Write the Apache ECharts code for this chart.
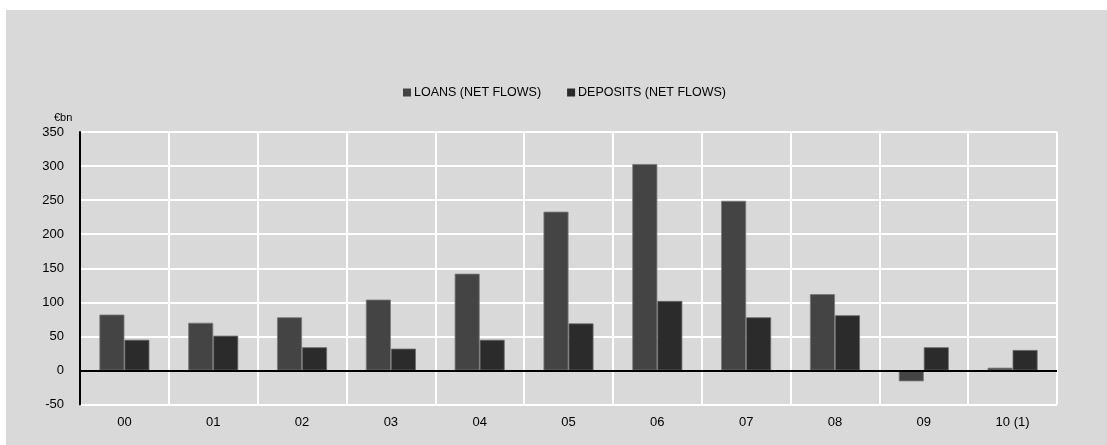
<!DOCTYPE html>
<html>
<head>
<meta charset="utf-8">
<script src="https://cdn.jsdelivr.net/npm/echarts@6/dist/echarts.min.js"></script>
<style>
html,body{margin:0;padding:0;background:#fff;}
#bg{position:absolute;left:6px;top:10px;width:1101px;height:435px;background:#d9d9d9;}
#chart{position:absolute;left:0;top:0;width:1107px;height:445px;}
</style>
</head>
<body>
<div id="bg"></div>
<div id="chart"></div>
<script>
const categories = ['00','01','02','03','04','05','06','07','08','09','10 (1)'];
const loans = [82, 70, 78, 104, 142, 233, 303, 249, 112, -16, 4];
const deposits = [45, 51, 34, 32, 45, 69, 102, 78, 81, 34, 30];
const seriesNames = ['LOANS (NET FLOWS)', 'DEPOSITS (NET FLOWS)'];
const unitLabel = '€bn';

const chart = echarts.init(document.getElementById('chart'), null, {renderer:'canvas'});
const font = 'Liberation Sans, Arial, sans-serif';
chart.setOption({
  backgroundColor: 'transparent',
  animation: false,
  textStyle: {fontFamily: font},
  legend: {
    top: 81, left: 398,
    itemWidth: 8, itemHeight: 8, itemGap: 26,
    icon: 'rect',
    itemStyle: {borderWidth: 0},
    textStyle: {fontSize: 12.5, color: '#000', fontFamily: font, padding: [0,0,0,-2]},
    data: seriesNames
  },
  grid: {left: 80, right: 50, top: 132, bottom: 40.5},
  graphic: [{
    type: 'text', left: 54, top: 112,
    style: {text: unitLabel, fontSize: 11, fill: '#000', fontFamily: font}
  }],
  xAxis: {
    type: 'category', data: categories,
    axisLine: {show: false, onZero: false},
    axisTick: {show: false},
    axisLabel: {color: '#000', fontSize: 13, margin: 11, fontFamily: font},
    splitLine: {show: true, lineStyle: {color: '#fff', width: 2}}
  },
  yAxis: {
    type: 'value', min: -50, max: 350, interval: 50,
    axisLine: {show: true, lineStyle: {color: '#000', width: 2}},
    axisTick: {show: false},
    axisLabel: {color: '#000', fontSize: 13, margin: 16, fontFamily: font},
    splitLine: {show: true, lineStyle: {color: '#fff', width: 2}}
  },
  series: [{
    name: seriesNames[0], type: 'bar', data: loans,
    barWidth: 25, barGap: '0%',
    itemStyle: {color: '#444444', borderColor: '#7a7a7a', borderWidth: 0.8},
    markLine: {
      silent: true, symbol: 'none', label: {show: false},
      lineStyle: {color: '#000', width: 2, type: 'solid'},
      data: [{yAxis: 0}]
    }
  }, {
    name: seriesNames[1], type: 'bar', data: deposits,
    barWidth: 25, barGap: '0%',
    itemStyle: {color: '#2b2b2b', borderColor: '#6a6a6a', borderWidth: 0.8}
  }]
});
</script>
</body>
</html>
